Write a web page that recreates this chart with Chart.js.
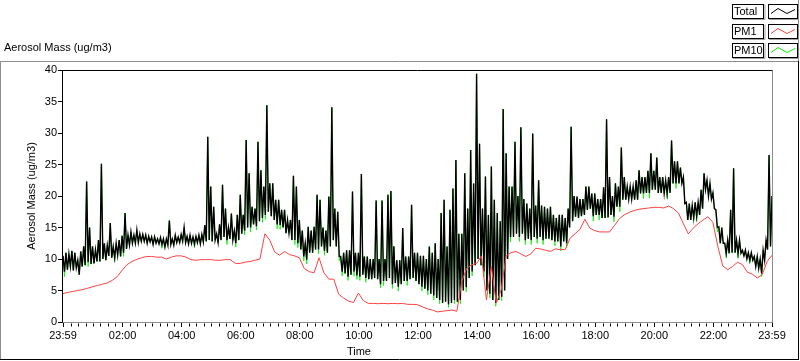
<!DOCTYPE html>
<html>
<head>
<meta charset="utf-8">
<script src="https://cdn.jsdelivr.net/npm/chart.js@4/dist/chart.umd.min.js"></script>
<style>
  html, body { margin: 0; padding: 0; background: #fff; }
  canvas { display: block; }
</style>
</head>
<body>
<canvas id="chart" width="800" height="361"></canvas>
<script>
// minutes after 23:59. Total and PM10 are read as the high and low of their
// band in every 6 min bin, PM1 once per 10 min.
var binStep = 6;
var pm1Step = 10;

var totalHigh = [
	10.5, 11.0, 10.8, 11.3, 11.0, 9.8, 11.2, 12.0, 22.3, 15.0,
	12.0, 11.5, 13.0, 25.1, 12.5, 12.2, 15.7, 12.0, 12.5, 13.0,
	13.7, 17.3, 13.8, 14.3, 13.8, 14.6, 14.0, 13.9, 13.8, 13.6,
	13.5, 13.5, 13.2, 13.4, 13.2, 13.2, 16.1, 13.2, 13.8, 13.5,
	13.9, 15.0, 13.6, 13.8, 13.5, 13.6, 13.8, 13.9, 15.4, 29.4,
	21.5, 18.3, 14.0, 15.5, 21.8, 18.0, 15.0, 17.2, 14.5, 17.0,
	20.2, 17.0, 28.9, 23.6, 18.3, 18.0, 28.6, 24.1, 21.5, 34.4,
	22.0, 22.0, 19.4, 19.4, 17.8, 17.8, 16.2, 16.2, 23.2, 21.5,
	16.2, 14.5, 12.5, 15.1, 14.5, 15.1, 20.2, 19.4, 15.0, 14.5,
	19.9, 34.1, 18.0, 17.5, 10.4, 11.0, 11.4, 11.4, 20.7, 11.0,
	11.0, 23.5, 10.4, 10.4, 10.0, 10.0, 19.3, 10.0, 19.3, 10.0,
	20.2, 20.8, 12.0, 9.8, 9.8, 14.9, 10.4, 10.4, 18.6, 11.0,
	11.0, 10.5, 10.5, 10.0, 12.0, 11.0, 12.5, 10.0, 17.3, 19.4,
	12.0, 17.8, 21.2, 25.7, 14.0, 14.0, 23.6, 18.0, 27.3, 22.0,
	39.4, 28.3, 18.0, 23.1, 17.0, 24.7, 19.4, 17.3, 16.0, 33.8,
	26.8, 21.5, 21.5, 28.6, 20.0, 30.9, 19.5, 18.8, 18.0, 29.9,
	18.5, 22.5, 18.5, 18.3, 18.0, 18.3, 17.0, 16.5, 17.0, 17.0,
	16.5, 18.0, 31.0, 20.0, 19.9, 19.5, 19.5, 21.5, 21.5, 20.4,
	20.4, 19.5, 19.5, 21.4, 32.2, 23.0, 20.0, 22.0, 21.5, 27.7,
	23.0, 21.5, 21.5, 21.5, 22.5, 24.1, 23.0, 23.0, 24.0, 26.8,
	24.0, 26.1, 23.0, 23.0, 22.5, 23.0, 28.8, 25.5, 25.5, 24.5,
	23.0, 19.0, 18.8, 18.5, 19.0, 19.0, 21.0, 23.6, 22.5, 22.0,
	20.5, 17.8, 15.1, 15.0, 12.5, 13.0, 17.8, 24.4, 13.0, 13.0,
	11.4, 11.4, 11.0, 11.0, 10.4, 10.4, 10.0, 11.4, 13.0, 26.5, 20.0
];

var totalLow = [
	8.0, 8.3, 8.8, 8.2, 8.6, 7.5, 8.8, 9.0, 9.5, 9.2,
	9.3, 9.6, 9.6, 10.0, 9.8, 10.5, 10.2, 10.2, 10.6, 10.4,
	11.0, 11.6, 12.2, 12.5, 12.5, 12.6, 12.8, 12.8, 12.5, 12.7,
	12.3, 12.5, 12.4, 12.3, 11.9, 12.2, 12.3, 12.2, 12.6, 12.6,
	12.8, 12.6, 12.4, 12.5, 12.4, 12.6, 12.4, 12.7, 12.8, 13.0,
	12.8, 13.0, 12.6, 13.0, 13.5, 13.0, 13.2, 13.0, 12.5, 13.0,
	14.0, 14.5, 15.0, 15.0, 15.5, 15.2, 16.0, 16.5, 17.0, 17.5,
	16.8, 16.2, 15.5, 15.4, 15.0, 14.1, 14.1, 13.0, 13.0, 12.5,
	11.5, 10.4, 9.9, 11.0, 11.0, 11.5, 11.5, 12.0, 11.3, 11.0,
	12.0, 13.0, 12.0, 10.4, 8.0, 7.7, 7.2, 7.5, 8.0, 7.4,
	7.2, 7.5, 7.0, 6.8, 6.8, 7.0, 6.8, 6.0, 6.5, 6.5,
	7.0, 6.0, 6.2, 5.6, 6.0, 6.5, 6.5, 6.8, 7.0, 6.5,
	6.0, 5.6, 5.3, 5.0, 4.5, 4.2, 3.8, 3.5, 3.0, 3.2,
	2.8, 3.0, 3.5, 3.2, 3.5, 5.0, 5.5, 7.0, 8.0, 9.0,
	10.0, 9.0, 8.0, 5.0, 4.5, 3.5, 3.0, 3.5, 4.0, 5.0,
	10.0, 13.5, 13.5, 14.0, 13.5, 14.0, 13.0, 13.2, 13.0, 13.5,
	13.2, 13.5, 13.0, 13.2, 13.2, 13.0, 12.8, 12.8, 12.0, 12.8,
	12.5, 15.0, 16.0, 16.7, 16.5, 16.8, 17.0, 17.8, 18.0, 16.8,
	17.0, 17.0, 16.5, 16.5, 16.6, 17.0, 16.7, 18.3, 18.3, 19.4,
	19.4, 19.5, 19.5, 19.4, 19.4, 20.4, 20.4, 20.5, 20.5, 21.0,
	21.0, 20.5, 20.5, 20.4, 20.4, 20.5, 22.0, 22.0, 22.0, 22.0,
	18.8, 16.2, 16.2, 16.5, 16.8, 17.0, 18.0, 21.0, 20.0, 19.5,
	18.0, 15.0, 12.5, 12.5, 10.9, 10.9, 11.0, 11.0, 10.9, 10.9,
	10.5, 10.0, 9.8, 9.8, 8.8, 8.5, 7.7, 9.8, 11.5, 12.0, 20.0
];

// PM10 peaks sit under the Total peaks, so its highs are read as totalHigh
var pm10Low = [
	7.2, 8.3, 8.8, 8.2, 8.6, 7.5, 8.8, 9.0, 8.8, 9.2,
	9.3, 9.6, 9.6, 10.0, 9.8, 10.5, 10.2, 9.6, 10.6, 10.4,
	10.4, 11.6, 12.2, 12.5, 12.5, 12.6, 12.8, 12.8, 12.5, 12.7,
	12.3, 12.5, 12.4, 11.7, 11.9, 12.2, 12.3, 12.2, 12.6, 12.6,
	12.8, 12.6, 12.4, 12.5, 11.8, 12.6, 12.4, 12.7, 12.8, 13.0,
	12.8, 13.0, 12.6, 13.0, 13.5, 12.3, 13.2, 13.0, 11.9, 13.0,
	14.0, 13.8, 15.0, 14.3, 15.5, 14.6, 16.0, 15.8, 16.3, 17.5,
	16.8, 16.2, 14.8, 14.7, 15.0, 14.1, 14.1, 13.0, 12.3, 11.8,
	11.5, 9.7, 9.2, 11.0, 11.0, 11.5, 10.8, 12.0, 10.6, 11.0,
	12.0, 13.0, 12.0, 9.7, 7.3, 7.7, 6.6, 7.5, 7.3, 6.8,
	6.6, 7.5, 6.3, 6.8, 6.8, 7.0, 6.8, 5.4, 5.8, 6.5,
	7.0, 5.3, 6.2, 4.9, 6.0, 6.5, 5.8, 6.8, 7.0, 6.5,
	6.0, 4.9, 5.3, 4.3, 4.5, 3.5, 3.8, 2.9, 3.0, 3.2,
	2.3, 3.0, 2.9, 3.2, 2.9, 5.0, 4.8, 7.0, 7.3, 9.0,
	10.0, 9.0, 7.2, 5.0, 3.8, 3.5, 2.5, 3.5, 3.4, 5.0,
	10.0, 12.7, 13.5, 14.0, 12.8, 14.0, 12.3, 13.2, 12.3, 13.5,
	12.5, 13.5, 12.3, 13.2, 13.2, 13.0, 12.1, 12.8, 11.3, 12.8,
	11.8, 15.0, 16.0, 16.7, 16.5, 16.8, 17.0, 17.8, 18.0, 16.0,
	17.0, 16.2, 16.5, 16.5, 16.6, 17.0, 15.9, 18.3, 17.5, 19.4,
	19.4, 19.5, 19.5, 19.4, 19.4, 20.4, 19.6, 20.5, 19.7, 21.0,
	21.0, 20.5, 20.5, 20.4, 19.6, 20.5, 22.0, 21.2, 22.0, 22.0,
	18.8, 16.2, 16.2, 16.5, 16.0, 17.0, 18.0, 21.0, 20.0, 19.5,
	18.0, 14.3, 12.5, 12.5, 10.2, 10.9, 11.0, 11.0, 10.2, 10.9,
	10.5, 10.0, 9.3, 9.8, 8.8, 8.5, 7.2, 9.8, 11.5, 12.0, 20.0
];

var pm1 = [
	4.5, 4.7, 4.85, 5.0, 5.15, 5.35, 5.6, 5.8, 6.0, 6.2,
	6.6, 7.2, 8.2, 9.1, 9.6, 9.95, 10.2, 10.4, 10.4, 10.3,
	10.3, 10.0, 10.3, 10.5, 10.5, 10.3, 9.9, 9.8, 9.9, 9.9,
	9.9, 9.8, 9.8, 9.9, 9.9, 9.3, 9.3, 9.5, 9.6, 9.8,
	10.0, 14.0, 13.0, 11.1, 10.6, 11.2, 10.7, 10.5, 10.2, 8.5,
	8.0, 7.8, 10.2, 7.8, 6.8, 6.8, 4.4, 3.8, 3.3, 3.1,
	4.6, 3.4, 2.95, 2.95, 2.9, 2.95, 2.9, 2.95, 2.9, 2.95,
	2.8, 2.8, 2.75, 2.4, 2.1, 1.9, 1.6, 1.7, 1.8, 1.9,
	1.7, 6.5, 8.5, 9.1, 9.3, 10.5, 3.5, 8.8, 3.0, 5.1,
	10.5, 11.0, 11.2, 10.8, 10.4, 10.8, 11.7, 11.6, 11.4, 11.2,
	11.6, 11.5, 11.5, 13.3, 14.0, 14.7, 16.3, 14.9, 14.5, 14.3,
	14.3, 14.3, 15.3, 16.4, 17.0, 17.4, 17.7, 17.9, 18.0, 18.1,
	18.2, 18.2, 18.1, 18.4, 18.0, 17.3, 15.6, 14.0, 14.9, 15.6,
	16.2, 16.7, 15.8, 12.0, 8.9, 8.3, 8.8, 9.5, 9.1, 7.9,
	7.6, 7.0, 7.5, 9.6, 10.6
];

var majorTicks = [0, 121, 241, 361, 481, 601, 721, 841, 961, 1081, 1201, 1321, 1440];
var tickLabels = ['23:59', '02:00', '04:00', '06:00', '08:00', '10:00', '12:00',
	'14:00', '16:00', '18:00', '20:00', '22:00', '23:59'];

var legendNames = ['Total', 'PM1', 'PM10'];
var legendColors = ['#000000', '#ff4040', '#00ee00'];

var FAMILY = '"Liberation Sans", Arial, sans-serif';
var FONT = '11px ' + FAMILY;

function toPoints(values, step) {
	return values.map(function(v, i) {
		return { x: i * step, y: v };
	});
}

// high at the start of each bin, low half way through it
function bandPoints(high, low, step) {
	var pts = [];
	high.forEach(function(h, i) {
		pts.push({ x: i * step, y: h });
		if (i < low.length && i * step + step / 2 <= 1440) {
			pts.push({ x: i * step + step / 2, y: low[i] });
		}
	});
	return pts;
}

var framePlugin = {
	id: 'frame',
	afterDraw: function(chart) {
		var ctx = chart.ctx;
		var area = chart.chartArea;
		var xs = chart.scales.x;
		ctx.save();

		// outer panel
		ctx.lineWidth = 1;
		ctx.strokeStyle = '#8c8c8c';
		ctx.beginPath();
		ctx.moveTo(0, 61.5); ctx.lineTo(799, 61.5);
		ctx.moveTo(0.5, 61); ctx.lineTo(0.5, 360);
		ctx.moveTo(798.5, 0); ctx.lineTo(798.5, 61);
		ctx.stroke();
		ctx.strokeStyle = '#000';
		ctx.beginPath();
		ctx.moveTo(0, 359.5); ctx.lineTo(799, 359.5);
		ctx.moveTo(798.5, 61); ctx.lineTo(798.5, 360);
		ctx.stroke();

		// plot border
		var l = Math.round(area.left) - 0.5, t = Math.round(area.top) + 0.5;
		var r = Math.round(area.right) + 0.5, b = Math.round(area.bottom) + 0.5;
		ctx.strokeStyle = '#8c8c8c';
		ctx.beginPath();
		ctx.moveTo(r, t); ctx.lineTo(r, b);
		ctx.moveTo(l, b); ctx.lineTo(r, b);
		ctx.stroke();
		ctx.strokeStyle = '#000';
		ctx.beginPath();
		ctx.moveTo(l, b); ctx.lineTo(l, t);
		ctx.lineTo(r, t);
		ctx.stroke();

		// minor ticks every 15 min
		ctx.beginPath();
		for (var m = 16; m < 1440; m += 15) {
			if ((m - 1) % 120 === 0) continue;
			var px = Math.round(xs.getPixelForValue(m)) + 0.5;
			ctx.moveTo(px, b + 1);
			ctx.lineTo(px, b + 4);
		}
		ctx.stroke();

		// texts
		ctx.fillStyle = '#000';
		ctx.font = FONT;
		ctx.textBaseline = 'middle';
		ctx.textAlign = 'left';
		ctx.fillText('Aerosol Mass (ug/m3)', 4, 48);
		ctx.textAlign = 'center';
		ctx.fillText('Time', xs.getPixelForValue(601), 352);

		// legend
		for (var i = 0; i < legendNames.length; i++) {
			var y0 = Math.round(4 + i * 19.5) + 0.5;
			ctx.strokeStyle = '#000';
			ctx.strokeRect(732.5, y0, 31, 14);
			ctx.strokeRect(768.5, y0, 29, 14);
			ctx.strokeStyle = '#a0a0a0';
			ctx.beginPath();
			ctx.moveTo(733, y0 + 15); ctx.lineTo(765, y0 + 15); ctx.lineTo(765, y0);
			ctx.moveTo(769, y0 + 15); ctx.lineTo(799, y0 + 15);
			ctx.stroke();
			ctx.fillStyle = '#000';
			ctx.textAlign = 'left';
			ctx.fillText(legendNames[i], 734, y0 + 7.5);
			ctx.strokeStyle = legendColors[i];
			ctx.beginPath();
			ctx.moveTo(771, y0 + 9);
			ctx.lineTo(778, y0 + 4);
			ctx.lineTo(787, y0 + 9);
			ctx.lineTo(795, y0 + 5);
			ctx.stroke();
		}
		ctx.restore();
	}
};

new Chart(document.getElementById('chart'), {
	type: 'line',
	data: {
		datasets: [{
			label: 'PM1',
			data: toPoints(pm1, pm1Step),
			borderColor: '#ff4040',
			borderWidth: 1,
			order: 0
		}, {
			label: 'Total',
			data: bandPoints(totalHigh, totalLow, binStep),
			borderColor: '#000000',
			borderWidth: 1.4,
			order: 1
		}, {
			label: 'PM10',
			data: bandPoints(totalHigh, pm10Low, binStep),
			borderColor: '#00ee00',
			borderWidth: 0.8,
			order: 2
		}]
	},
	options: {
		responsive: false,
		animation: false,
		parsing: false,
		layout: { padding: { top: 70, right: 28, left: 0, bottom: 0 } },
		elements: { point: { radius: 0 }, line: { tension: 0 } },
		plugins: {
			legend: { display: false },
			tooltip: { enabled: false }
		},
		scales: {
			x: {
				type: 'linear',
				min: 0,
				max: 1440,
				afterBuildTicks: function(scale) {
					scale.ticks = majorTicks.map(function(v) { return { value: v }; });
				},
				afterFit: function(scale) { scale.height = 39; },
				ticks: {
					autoSkip: false,
					maxRotation: 0,
					padding: 2,
					color: '#000',
					font: { family: FAMILY, size: 11 },
					callback: function(v, i) { return tickLabels[i]; }
				},
				grid: { drawOnChartArea: false, tickLength: 5, color: '#000' },
				border: { display: false }
			},
			y: {
				min: 0,
				max: 40,
				afterFit: function(scale) { scale.width = 63; },
				ticks: {
					stepSize: 5,
					padding: 1,
					color: '#000',
					font: { family: FAMILY, size: 11 }
				},
				grid: { drawOnChartArea: false, tickLength: 5, color: '#000' },
				border: { display: false },
				title: {
					display: true,
					text: 'Aerosol Mass (ug/m3)',
					color: '#000',
					padding: { top: 25, bottom: 0 },
					font: { family: FAMILY, size: 11 }
				}
			}
		}
	},
	plugins: [framePlugin]
});
</script>
</body>
</html>
